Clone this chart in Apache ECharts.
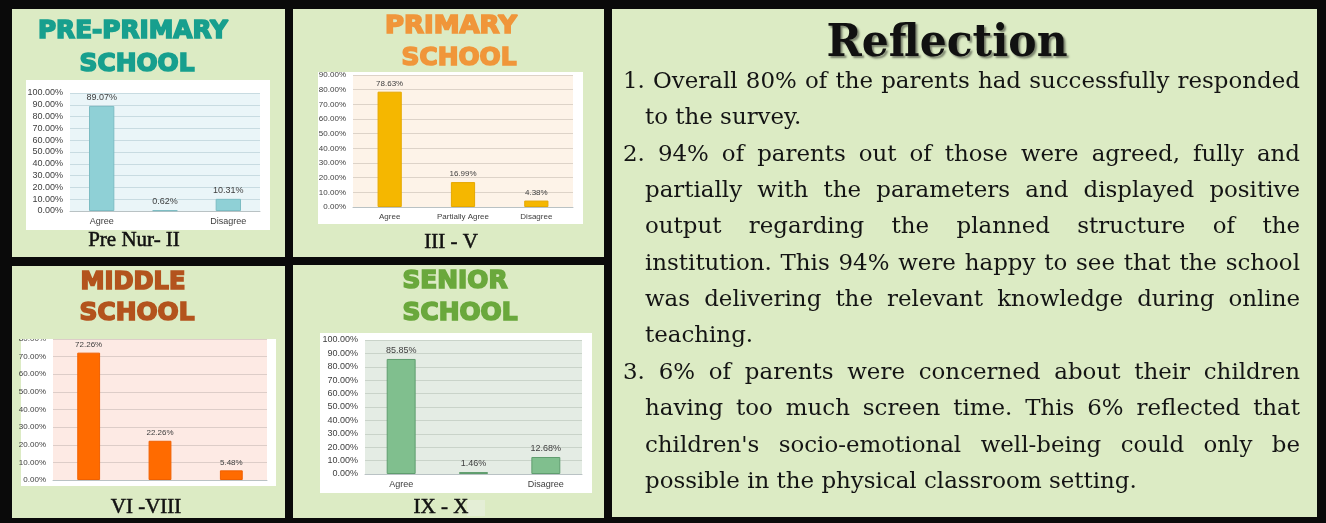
<!DOCTYPE html>
<html>
<head>
<meta charset="utf-8">
<script src="https://cdn.jsdelivr.net/npm/echarts@6/dist/echarts.min.js"></script>
<style>
html, body { margin: 0; padding: 0; background: #0a0a0a; }
#main { width: 1326px; height: 523px; }
</style>
</head>
<body>
<div id="main"></div>
<script>
// data
var categories = ["Agree", "Partially Agree", "Disagree"];
var prePrimaryValues = [89.07, 0.62, 10.31];
var primaryValues = [78.63, 16.99, 4.38];
var middleValues = [72.26, 22.26, 5.48];
var seniorValues = [85.85, 1.46, 12.68];
var axisMax = [100, 90, 80, 100];
var schoolTitles = [["PRE-PRIMARY", "SCHOOL"], ["PRIMARY", "SCHOOL"], ["MIDDLE", "SCHOOL"], ["SENIOR", "SCHOOL"]];
var classLabels = ["Pre Nur- II", "III - V", "VI -VIII", "IX - X"];
var reflectionTitle = "Reflection";
var reflectionLines = [
	"1. Overall 80% of the parents had successfully responded",
	"to the survey.",
	"2. 94% of parents out of those were agreed, fully and",
	"partially with the parameters and displayed positive",
	"output regarding the planned structure of the",
	"institution. This 94% were happy to see that the school",
	"was delivering the relevant knowledge during online",
	"teaching.",
	"3. 6% of parents were concerned about their children",
	"having too much screen time. This 6% reflected that",
	"children's socio-emotional well-being could only be",
	"possible in the physical classroom setting."
];
var paragraphEnds = [1, 7, 11];

var seriesValues = [prePrimaryValues, primaryValues, middleValues, seniorValues];

// layout of the four panels
var panels = [
	{ bg: [12, 9, 273, 248], box: [26, 80, 244, 150], grid: { left: 70, top: 93, width: 190, height: 118 },
		color: "#179f8e", tx: [133, 137], ty: [32, 65], tw: [190, 115], sub: [134, 240],
		bar: "#8fd0d6", barBorder: "#7cbcc3", plotBg: "#eaf5f8", split: "#c8dbe1", fs: 9, barWidth: "40%", showCat: true },
	{ bg: [293, 9, 311, 248], box: [318, 72, 265, 152], grid: { left: 353, top: 75, width: 220, height: 132 },
		color: "#f0963a", tx: [451, 459], ty: [27, 59], tw: [132, 115], sub: [451, 242],
		bar: "#f5b700", barBorder: "#e5a800", plotBg: "#fdf3e8", split: "#ddd3c8", fs: 8, barWidth: "33%", showCat: true },
	{ bg: [12, 266, 273, 252], box: [21, 339, 255, 147], grid: { left: 53, top: 339, width: 214, height: 141 },
		color: "#b3531d", tx: [133, 137], ty: [283, 314], tw: [105, 115], sub: [146, 507],
		bar: "#ff6b00", barBorder: "#f06000", plotBg: "#fdeae4", split: "#ddcdc8", fs: 8, barWidth: "32%", showCat: false },
	{ bg: [293, 265, 311, 253], box: [320, 333, 272, 160], grid: { left: 365, top: 340, width: 217, height: 134 },
		color: "#6aa83c", tx: [455, 460], ty: [282, 314], tw: [105, 115], sub: [441, 507],
		bar: "#80bf8e", barBorder: "#5f9d6e", plotBg: "#e4ece4", split: "#c9d3c9", fs: 9, barWidth: "40%", showCat: true }
];
var panelGreen = "#dcebc4";

var measureCtx = document.createElement("canvas").getContext("2d");
function textWidth(str, font) {
	measureCtx.font = font;
	return measureCtx.measureText(str).width;
}

var grids = [], xAxes = [], yAxes = [], series = [], graphics = [];

panels.forEach(function (p, i) {
	graphics.push({ type: "rect", z: -20, shape: { x: p.bg[0], y: p.bg[1], width: p.bg[2], height: p.bg[3] }, style: { fill: panelGreen } });
	graphics.push({ type: "rect", z: -10, shape: { x: p.box[0], y: p.box[1], width: p.box[2], height: p.box[3] }, style: { fill: "#ffffff" } });

	schoolTitles[i].forEach(function (t, k) {
		var font = "bold 24px 'DejaVu Sans'";
		graphics.push({
			type: "text", z: 50, x: p.tx[k], y: p.ty[k], scaleX: p.tw[k] / textWidth(t, font),
			style: { text: t, fontFamily: "DejaVu Sans", fontWeight: "bold", fontSize: 24, fill: p.color,
				stroke: p.color, lineWidth: 1.6, textAlign: "center", textVerticalAlign: "middle" }
		});
	});
	graphics.push({
		type: "text", z: 50, x: p.sub[0], y: p.sub[1],
		style: { text: classLabels[i], fontFamily: "Liberation Serif", fontSize: 21, fill: "#111",
			stroke: "#111", lineWidth: 0.5, textAlign: "center", textVerticalAlign: "middle" }
	});

	grids.push({ left: p.grid.left, top: p.grid.top, width: p.grid.width, height: p.grid.height, show: true, backgroundColor: p.plotBg, borderWidth: 0 });
	xAxes.push({
		type: "category", gridIndex: i, data: categories,
		axisTick: { show: false },
		axisLine: { lineStyle: { color: "#b9c2c4" } },
		axisLabel: { show: p.showCat, fontSize: p.fs, color: "#404040", fontFamily: "Liberation Sans", margin: 6 }
	});
	yAxes.push({
		type: "value", gridIndex: i, min: 0, max: axisMax[i], interval: 10,
		axisLine: { show: false }, axisTick: { show: false },
		splitLine: { lineStyle: { color: p.split } },
		axisLabel: { fontSize: p.fs, color: "#404040", fontFamily: "Liberation Sans", margin: 7,
			formatter: function (v) { return v.toFixed(2) + "%"; } }
	});
	series.push({
		type: "bar", xAxisIndex: i, yAxisIndex: i, data: seriesValues[i], barWidth: p.barWidth,
		itemStyle: { color: p.bar, borderColor: p.barBorder, borderWidth: 1 },
		label: { show: true, position: "top", distance: 4, fontSize: p.fs, color: "#404040", fontFamily: "Liberation Sans",
			formatter: function (d) { return d.value.toFixed(2) + "%"; } }
	});
});

// middle chart is cut at its top edge
graphics.push({ type: "rect", z: 40, shape: { x: 12, y: 329, width: 273, height: 10 }, style: { fill: panelGreen } });
// pasted patch next to "IX - X"
graphics.push({ type: "rect", z: 40, shape: { x: 467, y: 500, width: 18, height: 16 }, style: { fill: "#e4eed6" } });

// reflection panel
graphics.push({ type: "rect", z: -20, shape: { x: 612, y: 9, width: 705, height: 508 }, style: { fill: panelGreen } });
var titleFont = "bold 44px 'DejaVu Serif'";
graphics.push({
	type: "text", z: 50, x: 947, y: 45, scaleX: 241 / textWidth(reflectionTitle, titleFont),
	style: { text: reflectionTitle, fontFamily: "DejaVu Serif", fontWeight: "bold", fontSize: 44, fill: "#111",
		textAlign: "center", textVerticalAlign: "middle",
		textShadowColor: "rgba(0,0,0,0.45)", textShadowOffsetX: 2, textShadowOffsetY: 2, textShadowBlur: 2 }
});

// size the body so the last (unjustified) line is as wide as in the picture
var bodyFamily = "'DejaVu Serif'";
var baseFont = "20px " + bodyFamily;
var bodySize = 20 * 492 / textWidth(reflectionLines[11], baseFont);
var bodyFont = bodySize.toFixed(2) + "px " + bodyFamily;
var rightEdge = 1300;
reflectionLines.forEach(function (line, i) {
	var numbered = /^\d\./.test(line);
	var left = numbered ? 623 : 645;
	var words = line.split(" ");
	var widths = words.map(function (w) { return textWidth(w, bodyFont); });
	var total = widths.reduce(function (a, b) { return a + b; }, 0);
	var gap = textWidth(" ", bodyFont);
	if (paragraphEnds.indexOf(i) < 0 && words.length > 1) {
		gap = (rightEdge - left - total) / (words.length - 1);
	}
	var x = left;
	var y = 82 + i * 36.36;
	words.forEach(function (w, k) {
		graphics.push({
			type: "text", z: 50, x: x, y: y,
			style: { text: w, font: bodyFont, fill: "#141414", textAlign: "left", textVerticalAlign: "middle" }
		});
		x += widths[k] + gap;
	});
});

var chart = echarts.init(document.getElementById("main"));
chart.setOption({
	backgroundColor: "#0a0a0a",
	animation: false,
	grid: grids,
	xAxis: xAxes,
	yAxis: yAxes,
	series: series,
	graphic: { elements: graphics }
});
</script>
</body>
</html>
